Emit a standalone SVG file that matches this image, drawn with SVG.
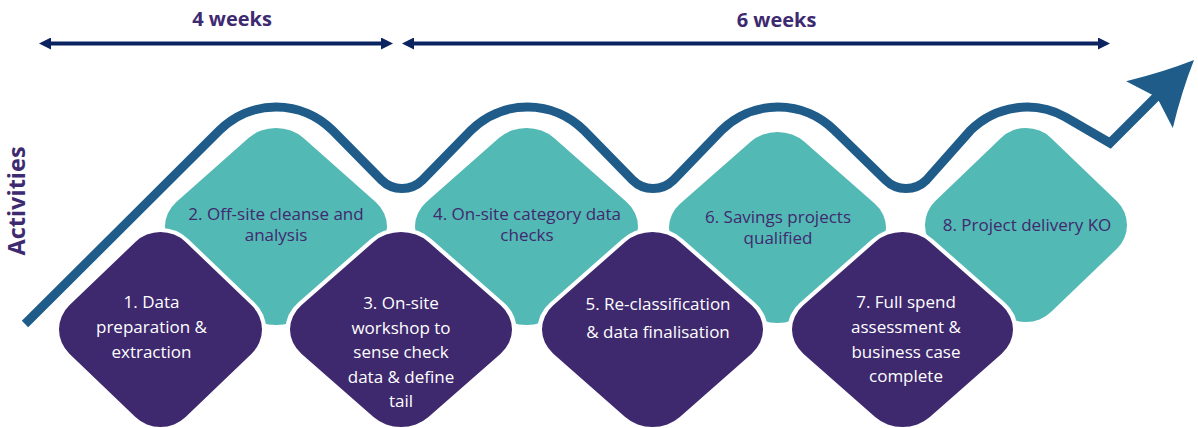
<svg xmlns="http://www.w3.org/2000/svg" xmlns:xlink="http://www.w3.org/1999/xlink" width="1198" height="428" viewBox="0 0 1198 428">
<style>
.teal{fill:#52b9b4}
.purple{fill:#3e286e;stroke:#ffffff;stroke-width:8;paint-order:stroke}
.lbl{font-family:'Open Sans','Liberation Sans',sans-serif;font-size:17px;text-anchor:middle}
.tt{fill:#41296f}
.pt{fill:#ffffff}
.hd{font-family:'Open Sans','Liberation Sans',sans-serif;font-weight:bold;font-size:20px;fill:#3e2a70;text-anchor:middle}
.wave{fill:none;stroke:#1f5c89;stroke-width:9;stroke-linejoin:miter;stroke-miterlimit:10}
.dur{fill:none;stroke:#0b2360;stroke-width:4}
</style>
<defs>
<rect id="dia" x="-80.97" y="-80.97" width="161.94" height="161.94" rx="35" ry="35" transform="rotate(45)"/>
<marker id="ah" viewBox="0 0 12 12" refX="2" refY="6" markerWidth="12" markerHeight="12" markerUnits="userSpaceOnUse" orient="auto-start-reverse">
<path d="M0,0 L12,6 L0,12 Z" fill="#0b2360"/>
</marker>
</defs>

<g id="node-2">
<use xlink:href="#dia" class="teal" transform="translate(276,226.5) scale(1.11,0.985)"/>
<text class="lbl tt"><tspan x="276" y="220">2. Off-site cleanse and</tspan><tspan x="276" y="241">analysis</tspan></text>
</g>
<g id="node-4">
<use xlink:href="#dia" class="teal" transform="translate(526.5,226.5) scale(1.115,0.985)"/>
<text class="lbl tt"><tspan x="527" y="220">4. On-site category data</tspan><tspan x="527" y="241">checks</tspan></text>
</g>
<g id="node-6">
<use xlink:href="#dia" class="teal" transform="translate(777.5,227.5) scale(1.085,0.955)"/>
<text class="lbl tt"><tspan x="778" y="223">6. Savings projects</tspan><tspan x="778" y="244">qualified</tspan></text>
</g>
<g id="node-8">
<use xlink:href="#dia" class="teal" transform="translate(1026,225) scale(1.01,0.97)"/>
<text class="lbl tt"><tspan x="1027" y="230.7">8. Project delivery KO</tspan></text>
</g>
<g id="node-1">
<use xlink:href="#dia" class="purple" transform="translate(160.5,329.5) scale(1.015,0.975)"/>
<text class="lbl pt"><tspan x="151.5" y="308.3">1. Data</tspan><tspan x="151.5" y="333">preparation &amp;</tspan><tspan x="151.5" y="357.7">extraction</tspan></text>
</g>
<g id="node-3">
<use xlink:href="#dia" class="purple" transform="translate(401,329.5) scale(1.11,0.975)"/>
<text class="lbl pt"><tspan x="401" y="309">3. On-site</tspan><tspan x="401" y="333.5">workshop to</tspan><tspan x="401" y="358">sense check</tspan><tspan x="401" y="382.5">data &amp; define</tspan><tspan x="401" y="407">tail</tspan></text>
</g>
<g id="node-5">
<use xlink:href="#dia" class="purple" transform="translate(652.5,329.5) scale(1.105,0.975)"/>
<text class="lbl pt"><tspan x="658" y="310">5. Re-classification</tspan><tspan x="658" y="338.3">&amp; data finalisation</tspan></text>
</g>
<g id="node-7">
<use xlink:href="#dia" class="purple" transform="translate(902.5,329.5) scale(1.105,0.975)"/>
<text class="lbl pt"><tspan x="906" y="308">7. Full spend</tspan><tspan x="906" y="333">assessment &amp;</tspan><tspan x="906" y="357.5">business case</tspan><tspan x="906" y="382">complete</tspan></text>
</g>

<g id="labels">
<text class="hd" x="232" y="26">4 weeks</text>
<text class="hd" x="776.5" y="27">6 weeks</text>
<text font-family="'Open Sans','Liberation Sans',sans-serif" font-weight="bold" font-size="23.5" fill="#3e2a70" text-anchor="middle" transform="translate(25,201) rotate(-90)">Activities</text>
</g>

<g id="connectors">
<line class="dur" x1="49" y1="43.5" x2="383" y2="43.5" marker-start="url(#ah)" marker-end="url(#ah)"/>
<line class="dur" x1="412" y1="43.5" x2="1100" y2="43.5" marker-start="url(#ah)" marker-end="url(#ah)"/>
<path class="wave" d="M25,324 L219.43,130.43 A80,80 0 0 1 332.57,130.43 L381.5,180 A29,29 0 0 0 422.5,180 L470.93,130.43 A80,80 0 0 1 584.07,130.43 L632.5,180 A29,29 0 0 0 673.5,180 L721.43,130.43 A80,80 0 0 1 834.57,130.43 L885.5,180 A29,29 0 0 0 926.5,180 L970.43,130.43 A80,80 0 0 1 1065.5,117.1 L1110,143 L1159,94"/>
<path fill="#1f5c89" transform="translate(1194,60) rotate(-45)" d="M0,0 Q-30,13 -63,33 L-54,4.5 L-54,-4.5 L-63,-33 Q-30,-13 0,0 Z"/>
</g>
</svg>
